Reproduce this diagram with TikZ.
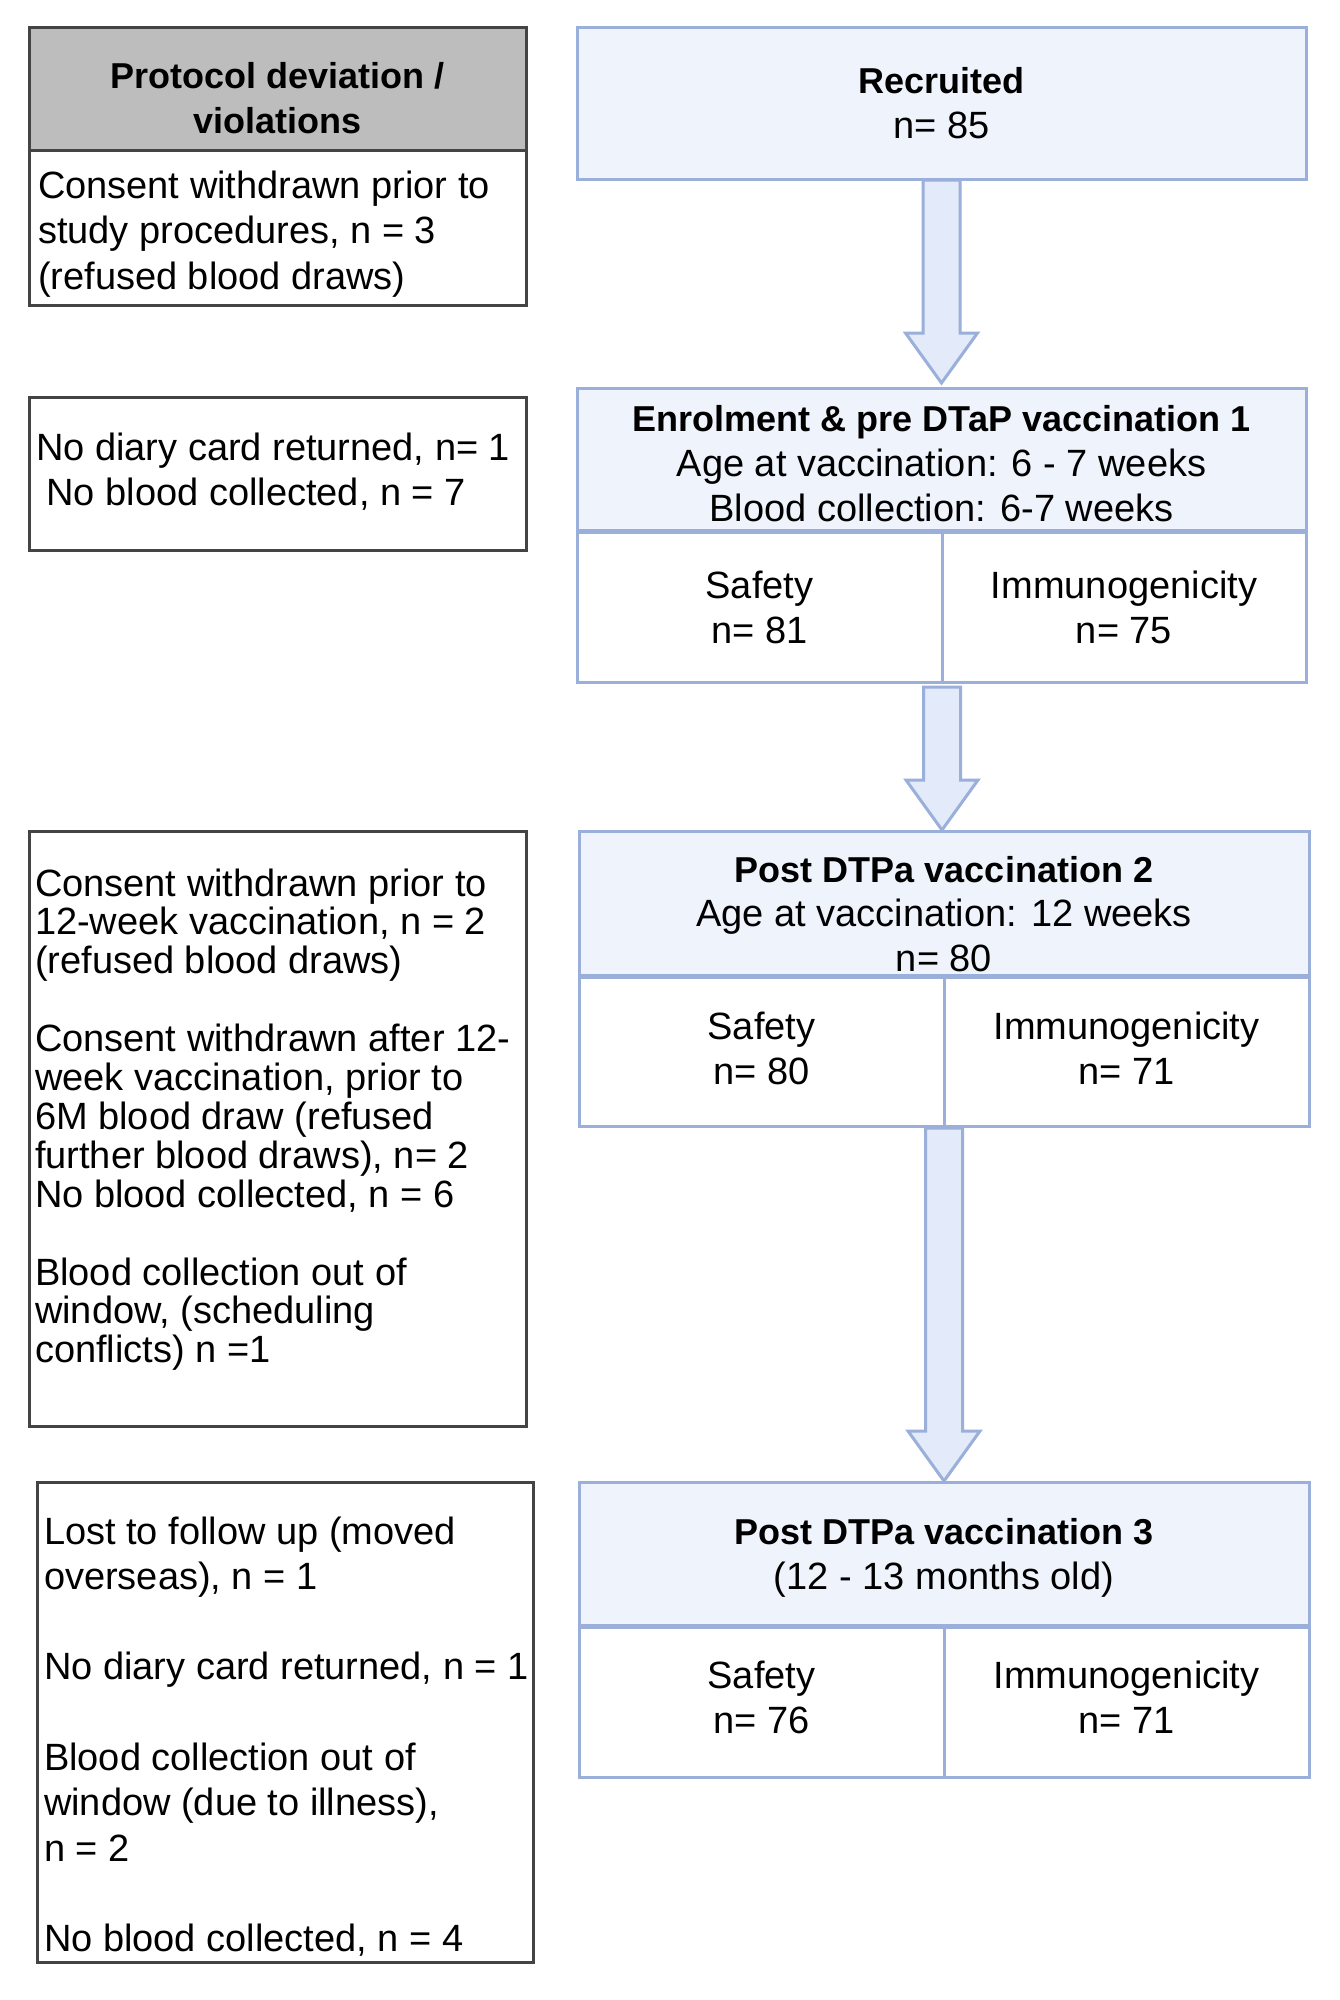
\documentclass[tikz,border=0pt]{standalone}
\usepackage{fontspec}
\setmainfont{Liberation Sans}
\usetikzlibrary{calc}
\definecolor{hdrfill}{HTML}{EEF3FC}
\definecolor{arrfill}{HTML}{E3EAF9}
\definecolor{blueline}{HTML}{9AAFD9}
\definecolor{greyfill}{HTML}{BDBDBD}
\definecolor{darkline}{HTML}{444444}
\newcommand\Lines[2]{\vtop{\baselineskip=#1\halign{##\hfil\cr#2\crcr}}}
\newcommand\CLines[2]{\vtop{\baselineskip=#1\halign{\hfil##\hfil\cr#2\crcr}}}
\newcommand\bfont{\fontsize{36}{45.5}\selectfont\bfseries}
\newcommand\blockarrow[4]{%
  \draw[barrow] let \p1=(#1), \p2=(#2) in
    (\x1-18.5pt,\y1-#3) -- (\x1-18.5pt,\y2+#4+50pt) -- (\x1-36pt,\y2+#4+50pt)
    -- (\x1,\y2+#4) -- (\x1+36pt,\y2+#4+50pt) -- (\x1+18.5pt,\y2+#4+50pt)
    -- (\x1+18.5pt,\y1-#3) -- cycle;}
\begin{document}
\begin{tikzpicture}[x=1pt,y=-1pt,
  every node/.style={font=\fontsize{38}{45.5}\selectfont, inner sep=0pt, outer sep=0pt},
  box/.style={draw, line width=3pt, anchor=north west, minimum width=#1, minimum height=10pt},
  greybox/.style={box=#1, draw=darkline, fill=greyfill},
  whitebox/.style={box=#1, draw=darkline, fill=white},
  bluebox/.style={box=#1, draw=blueline, fill=hdrfill},
  cellbox/.style={box=#1, draw=blueline, fill=white},
  txt/.style={anchor=base west},
  ctxt/.style={anchor=base},
  barrow/.style={draw=blueline, fill=arrfill, line width=3pt, line join=miter}]
\useasboundingbox[fill=white] (0,0) rectangle (1339,2000);

% left column
\node[greybox=497pt, minimum height=123pt] (lh) at (29,27) {};
\node[whitebox=497pt, minimum height=155pt] (l1) at (29,150) {};
\node[whitebox=497pt, minimum height=153pt] (l2) at (29,397) {};
\node[whitebox=497pt, minimum height=595pt] (l3) at (29,831) {};
\node[whitebox=496pt, minimum height=480pt] (l4) at (37,1482) {};

% right column
\node[bluebox=729pt, minimum height=152pt] (rec) at (577,27) {};
\node[bluebox=729pt, minimum height=142pt] (e1h) at (577,388) {};
\node[cellbox=365pt, minimum height=150pt] (e1s) at (577,532) {};
\node[cellbox=364pt, minimum height=150pt] (e1i) at (942,532) {};
\node[bluebox=730pt, minimum height=144pt] (p2h) at (579,831) {};
\node[cellbox=365pt, minimum height=149pt] (p2s) at (579,977) {};
\node[cellbox=365pt, minimum height=149pt] (p2i) at (944,977) {};
\node[bluebox=730pt, minimum height=143pt] (p3h) at (579,1482) {};
\node[cellbox=365pt, minimum height=150pt] (p3s) at (579,1627) {};
\node[cellbox=365pt, minimum height=150pt] (p3i) at (944,1627) {};

% arrows
\blockarrow{rec.south}{e1h.north}{1pt}{5pt}
\blockarrow{e1s.south east}{p2h.north}{5pt}{1pt}
\blockarrow{p2s.south east}{p3h.north}{2pt}{1pt}

% texts left
\node[ctxt] (tlh) at (277.5,88) {\CLines{45pt}{\bfont Protocol deviation /\cr \bfont violations}};
\node[txt] (tl1) at (38,198) {\Lines{45.5pt}{Consent withdrawn prior to\cr study procedures, n = 3\cr (refused blood draws)}};
\node[txt] (tl2) at (36,460) {\Lines{45pt}{No diary card returned, n= 1\cr \ No blood collected, n = 7}};
\node[txt] (tl3) at (35,896) {\Lines{38.9pt}{Consent withdrawn prior to\cr 12-week vaccination, n = 2\cr (refused blood draws)\cr\cr Consent withdrawn after 12-\cr week vaccination, prior to\cr 6M blood draw (refused\cr further blood draws), n= 2\cr No blood collected, n = 6\cr\cr Blood collection out of\cr window, (scheduling\cr conflicts) n =1}};
\node[txt] (tl4) at (44,1544) {\Lines{45.3pt}{Lost to follow up (moved\cr overseas), n = 1\cr\cr No diary card returned, n = 1\cr\cr Blood collection out of\cr window (due to illness),\cr n = 2\cr\cr No blood collected, n = 4}};

% texts right
\node[ctxt] (trec) at (941.5,93) {\CLines{45pt}{\bfont Recruited\cr n= 85}};
\node[ctxt] (te1h) at (941.5,431) {\CLines{45pt}{\bfont Enrolment \& pre DTaP vaccination 1\cr Age at vaccination: 6 - 7 weeks\cr Blood collection: 6-7 weeks}};
\node[ctxt] (te1s) at (759.5,598) {\CLines{45pt}{Safety\cr n= 81}};
\node[ctxt] (te1i) at (1124,598) {\CLines{45pt}{Immunogenicity\cr n= 75}};
\node[ctxt] (tp2h) at (944,882) {\CLines{44.5pt}{\bfont Post DTPa vaccination 2\cr Age at vaccination: 12 weeks\cr n= 80}};
\node[ctxt] (tp2s) at (761.5,1039) {\CLines{45pt}{Safety\cr n= 80}};
\node[ctxt] (tp2i) at (1126.5,1039) {\CLines{45pt}{Immunogenicity\cr n= 71}};
\node[ctxt] (tp3h) at (944,1544) {\CLines{45pt}{\bfont Post DTPa vaccination 3\cr (12 - 13 months old)}};
\node[ctxt] (tp3s) at (761.5,1688) {\CLines{45pt}{Safety\cr n= 76}};
\node[ctxt] (tp3i) at (1126.5,1688) {\CLines{45pt}{Immunogenicity\cr n= 71}};

% header bottom line drawn over the cut text
\draw[blueline, line width=3pt] (p2h.south west) -- (p2h.south east);
\end{tikzpicture}
\end{document}
